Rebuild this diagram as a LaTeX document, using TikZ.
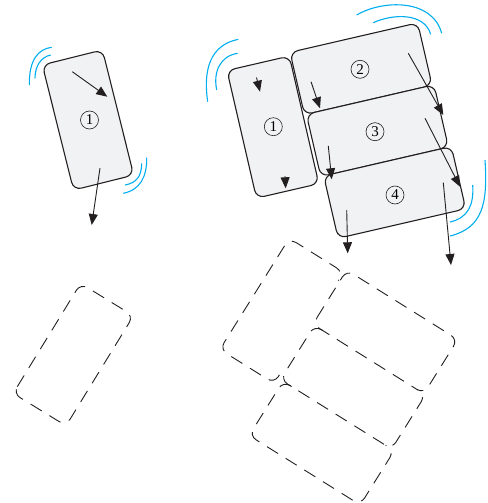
\documentclass[tikz,border=0pt]{standalone}
\usepackage{fontspec}
\setmainfont{Liberation Serif}
\usetikzlibrary{arrows.meta}
\definecolor{phonefill}{RGB}{241,242,244}
\definecolor{wavecol}{RGB}{0,174,239}
\definecolor{ink}{RGB}{35,31,32}
\begin{document}
\begin{tikzpicture}[x=1pt,y=1pt,
  phone/.style={draw=ink,line width=1.1pt,fill=phonefill,rounded corners=8pt},
  ghost/.style={draw=ink,line width=0.9pt,rounded corners=8pt,dash pattern=on 13pt off 9pt},
  wave/.style={draw=wavecol,line width=1.1pt},
  arr/.style={draw=ink,line width=0.9pt,-{Triangle[length=11pt,width=9pt]}},
  num/.style={circle,draw=ink,line width=0.6pt,minimum size=18pt,inner sep=0pt,font=\fontsize{15}{15}\selectfont}]
\useasboundingbox (0,0) rectangle (487,-503);

% ---------- left phone (solid) ----------
\begin{scope}[shift={(88,-120)},rotate=14]
  \draw[phone] (-31,-64.5) rectangle (31,64.5);
\end{scope}

% ---------- right group (solid) ----------
\begin{scope}[shift={(272.9,-127.1)},rotate=13]
  \draw[phone] (-32,-65.5) rectangle (32,65.5);
  \draw[phone] (33.5,5) rectangle (164.5,69);
  \draw[phone] (35.5,-59) rectangle (166.5,5);
  \draw[phone] (38.5,-123) rectangle (169.5,-59);
\end{scope}

% ---------- dashed outlines ----------
\begin{scope}[shift={(73.3,-354.6)},rotate=-31.5]
  \draw[ghost] (-31,-64.5) rectangle (31,64.5);
\end{scope}
\begin{scope}[shift={(281.7,-310.8)},rotate=-32]
  \draw[ghost] (32,-55.5) -- (32,-65.5) -- (-32,-65.5) -- (-32,65.5) -- (32,65.5) -- (32,55.5);
  \draw[ghost] (33.5,5) rectangle (164.5,69);
  \draw[ghost] (45.5,5) -- (35.5,5) -- (35.5,-59) -- (166.5,-59) -- (166.5,5) -- (156.5,5);
  \draw[ghost] (48.5,-59) -- (38.5,-59) -- (38.5,-123) -- (169.5,-123) -- (169.5,-59) -- (159.5,-59);
\end{scope}

% ---------- numbers ----------
\node[num] (n0) at (89.5,-120) {1};
\node[num] (n1) at (273.3,-126.7) {1};
\node[num] (n2) at (360,-69.3) {2};
\node[num] (n3) at (375,-131.7) {3};
\node[num] (n4) at (395,-195) {4};

% ---------- motion arrows ----------
\coordinate (a0s) at (72.3,-71.7);   \coordinate (a0e) at (107.3,-96.7);
\coordinate (b0s) at (100,-168);     \coordinate (b0e) at (91.7,-225);
\coordinate (a1s) at (256.5,-77.5);  \coordinate (a1e) at (260,-91.7);
\coordinate (b1s) at (285,-176);     \coordinate (b1e) at (285.7,-188.3);
\coordinate (a2s) at (311,-81.7);    \coordinate (a2e) at (320,-108.3);
\coordinate (b2s) at (408.3,-53.3);  \coordinate (b2e) at (443.3,-115);
\coordinate (a3s) at (328.3,-146);   \coordinate (a3e) at (331.7,-179.3);
\coordinate (b3s) at (425,-118.3);   \coordinate (b3e) at (460,-186.7);
\coordinate (a4s) at (346.7,-210);   \coordinate (a4e) at (347.7,-253.3);
\coordinate (b4s) at (443.3,-182.7); \coordinate (b4e) at (451,-265);
\draw[arr] (a0s) -- (a0e);
\draw[arr] (b0s) -- (b0e);
\draw[arr] (a1s) -- (a1e);
\draw[arr] (b1s) -- (b1e);
\draw[arr] (a2s) -- (a2e);
\draw[arr] (b2s) -- (b2e);
\draw[arr] (a3s) -- (a3e);
\draw[arr] (b3s) -- (b3e);
\draw[arr] (a4s) -- (a4e);
\draw[arr] (b4s) -- (b4e);

% ---------- vibration waves ----------
% left phone, top-left
\draw[wave] (51.7,-47.3) .. controls (38,-49) and (29,-60) .. (29.3,-85);
\draw[wave] (50.7,-55) .. controls (41,-57) and (35,-66) .. (35,-78.3);
% left phone, bottom-right
\draw[wave] (146.7,-157.7) .. controls (147,-177) and (140,-190) .. (123.3,-193.3);
\draw[wave] (141.7,-163.3) .. controls (141.5,-177) and (136,-183) .. (125,-185);
% right group phone 1, top-left
\draw[wave] (238.3,-39.3) .. controls (210,-45) and (203,-70) .. (207.7,-101.7);
\draw[wave] (237.7,-53.3) .. controls (220,-56) and (213,-72) .. (216.7,-90);
% phone 2, top-right
\draw[wave] (356.7,-15) .. controls (382,0) and (432,2) .. (441.7,-33.3);
\draw[wave] (373.3,-22.7) .. controls (392,-14) and (424,-12) .. (430.7,-34.3);
% phone 4, bottom-right
\draw[wave] (485,-160) .. controls (488,-205) and (482,-228) .. (450,-236);
\draw[wave] (472.7,-185) .. controls (474,-205) and (468,-218) .. (450,-222);
\end{tikzpicture}
\end{document}
